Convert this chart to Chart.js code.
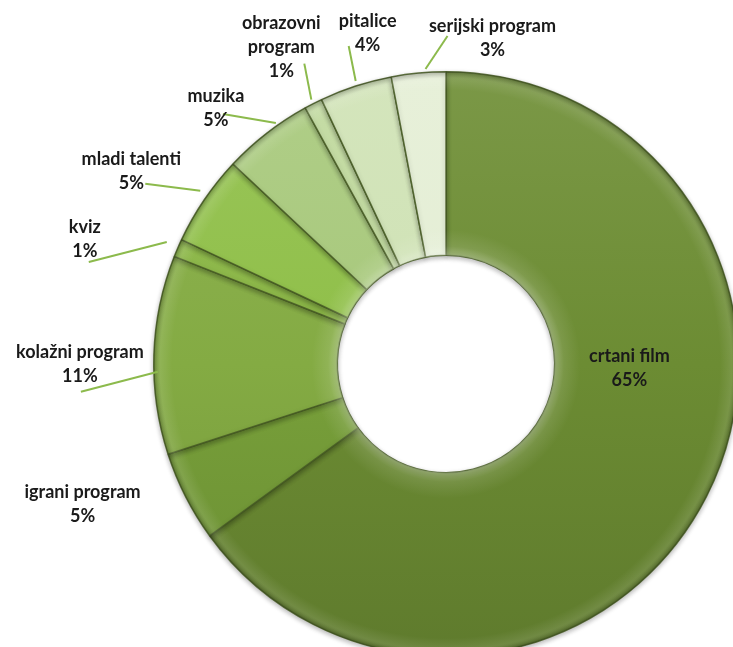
<!DOCTYPE html>
<html>
<head>
<meta charset="utf-8">
<script src="https://cdn.jsdelivr.net/npm/chart.js@4"></script>
<style>
  html, body { margin: 0; padding: 0; background: #fff; overflow: hidden; width: 733px; height: 647px; }
  #wrap { position: absolute; left: 0; top: 0; width: 892px; height: 728px; }
</style>
</head>
<body>
<div id="wrap"><canvas id="donut" width="892" height="728"></canvas></div>
<script>
const categories = ["crtani film", "igrani program", "kolažni program", "kviz", "mladi talenti",
                    "muzika", "obrazovni program", "pitalice", "serijski program"];
const shares = [65, 5, 11, 1, 5, 5, 1, 4, 3];
const sliceColors = ["#6c8c33", "#78a03a", "#84ab43", "#89b544", "#8fbf48",
                     "#a7c87b", "#bfd89c", "#cfe2b5", "#e4eed5"];

// where each label sits, relative to the outer edge at the middle of its slice
const labelLayout = [
  { text: [-77, -140] },
  { text: [-103, -4] },
  { text: [-74, -3], from: [4, 17], to: [-73, 37] },
  { text: [-93, -21], from: [-11, -6], to: [-89, 14] },
  { text: [-73, -41], from: [-4, -9], to: [-59, -16] },
  { text: [-51, -37], from: [9, -10], to: [-44, -19] },
  { text: [-32, -80], from: [-2, -4], to: [-9, -40], wrap: true },
  { text: [12, -65], from: [0, -5], to: [-7, -40] },
  { text: [74, -47], from: [7, -4], to: [29, -37] }
];

function shade(hex, amt) {
  const n = parseInt(hex.slice(1), 16);
  let r = n >> 16, g = (n >> 8) & 255, b = n & 255;
  const t = amt > 0 ? 255 : 0, a = Math.abs(amt);
  r = Math.round(r + (t - r) * a); g = Math.round(g + (t - g) * a); b = Math.round(b + (t - b) * a);
  return `rgb(${r},${g},${b})`;
}

const cutout = 0.372;

const labelPlugin = {
  id: "sliceLabels",
  beforeDatasetsDraw(chart) {
    const c = chart.ctx;
    c.save();
    c.shadowColor = "rgba(0,0,0,0.28)";
    c.shadowBlur = 5;
    c.shadowOffsetY = 2;
  },
  afterDatasetsDraw(chart) {
    const c = chart.ctx;
    c.restore();
    const meta = chart.getDatasetMeta(0);
    const a0 = meta.data[0];
    const cx = a0.x, cy = a0.y, ro = a0.outerRadius, ri = a0.innerRadius;

    // bevel: light rim on the inside, dark rim on the outside
    const g = c.createRadialGradient(cx, cy, ri, cx, cy, ro);
    g.addColorStop(0, "rgba(255,255,255,0.30)");
    g.addColorStop(0.05, "rgba(255,255,255,0.10)");
    g.addColorStop(0.14, "rgba(255,255,255,0)");
    g.addColorStop(0.9, "rgba(255,255,255,0)");
    g.addColorStop(0.965, "rgba(255,255,255,0.10)");
    g.addColorStop(1, "rgba(0,0,0,0.22)");
    c.save();
    c.beginPath();
    c.arc(cx, cy, ro, 0, Math.PI * 2);
    c.arc(cx, cy, ri, 0, Math.PI * 2, true);
    c.fillStyle = g;
    c.fill();
    c.restore();

    c.save();
    c.font = "bold 18px Lato, 'Open Sans', sans-serif";
    c.fillStyle = "#1a1a1a";
    c.textAlign = "center";
    c.textBaseline = "middle";
    meta.data.forEach((arc, i) => {
      const p = arc.getProps(["x", "y", "startAngle", "endAngle", "outerRadius"], true);
      const mid = (p.startAngle + p.endAngle) / 2;
      const ex = p.x + Math.cos(mid) * p.outerRadius;
      const ey = p.y + Math.sin(mid) * p.outerRadius;
      const L = labelLayout[i];
      if (L.from) {
        c.strokeStyle = "#8cba4c";
        c.lineWidth = 2;
        c.beginPath();
        c.moveTo(ex + L.from[0], ey + L.from[1]);
        c.lineTo(ex + L.to[0], ey + L.to[1]);
        c.stroke();
      }
      const lines = L.wrap ? categories[i].split(" ") : [categories[i]];
      lines.push(shares[i] + "%");
      lines.forEach((t, k) => c.fillText(t, ex + L.text[0], ey + L.text[1] + k * 24));
    });
    c.restore();
  }
};

new Chart(document.getElementById("donut").getContext("2d"), {
  type: "doughnut",
  data: {
    labels: categories,
    datasets: [{
      data: shares,
      backgroundColor: (ctx) => {
        const ca = ctx.chart.chartArea;
        const base = sliceColors[ctx.dataIndex];
        if (!ca) return base;
        const g = ctx.chart.ctx.createLinearGradient(0, ca.top, 0, ca.bottom);
        g.addColorStop(0, shade(base, 0.1));
        g.addColorStop(0.5, base);
        g.addColorStop(1, shade(base, -0.12));
        return g;
      },
      borderColor: "rgba(70,92,35,0.85)",
      borderWidth: 1.5,
      hoverOffset: 0
    }]
  },
  options: {
    responsive: false,
    animation: false,
    events: [],
    cutout: (cutout * 100) + "%",
    layout: { padding: 71 },
    plugins: {
      legend: { display: false },
      tooltip: { enabled: false }
    }
  },
  plugins: [labelPlugin]
});
</script>
</body>
</html>
